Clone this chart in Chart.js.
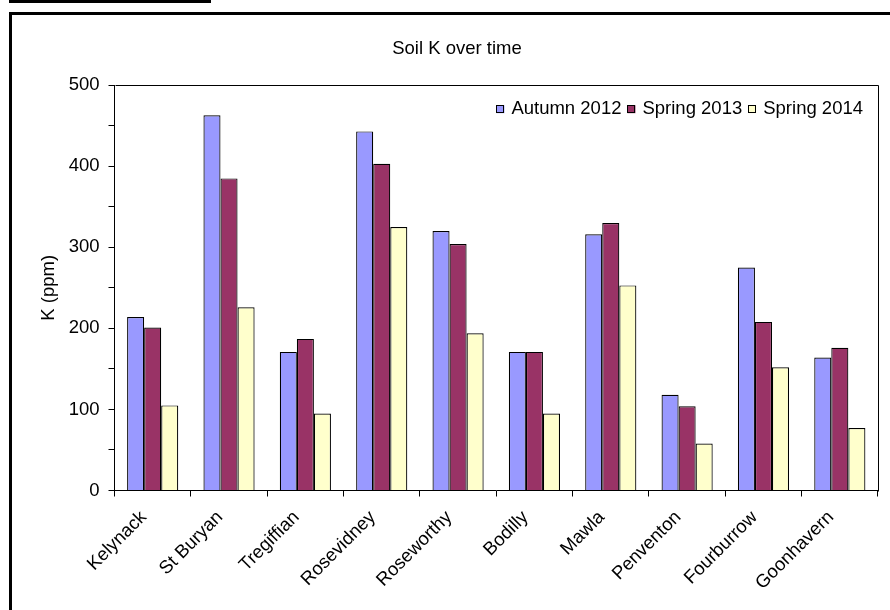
<!DOCTYPE html>
<html>
<head>
<meta charset="utf-8">
<script src="https://cdn.jsdelivr.net/npm/chart.js@4/dist/chart.umd.min.js"></script>
<style>
  html, body { margin: 0; padding: 0; background: #fff; overflow: hidden; }
  #topbar { position: absolute; left: 9px; top: 0; width: 202px; height: 3px; background: #000; }
  #frame { position: absolute; left: 9px; top: 12px; width: 1000px; height: 800px; border: 3px solid #000; }
  #soil { position: absolute; left: 0; top: 0; }
</style>
</head>
<body>
<div id="topbar"></div>
<div id="frame"></div>
<canvas id="soil" width="890" height="610"></canvas>
<script>
var sites = ["Kelynack", "St Buryan", "Tregiffian", "Rosevidney", "Roseworthy",
  "Bodilly", "Mawla", "Penventon", "Fourburrow", "Goonhavern"];
var autumn2012 = [214, 463, 171, 443, 320, 171, 316, 118, 275, 164];
var spring2013 = [201, 385, 187, 403, 304, 171, 330, 104, 208, 176];
var spring2014 = [105, 226, 95, 325, 194, 95, 253, 58, 152, 77];

var fontFamily = "'Liberation Sans', Arial, sans-serif";
Chart.defaults.font.family = fontFamily;
Chart.defaults.font.size = 18.5;
Chart.defaults.color = '#000';

// box lines on top and right of the plot, plus the legend inside it
var plotExtras = {
  id: 'plotExtras',
  afterDraw: function(chart) {
    var c = chart.ctx, a = chart.chartArea;
    c.save();
    c.strokeStyle = '#000';
    c.lineWidth = 1;
    c.beginPath();
    c.moveTo(Math.round(a.left) + 0.5, Math.round(a.top) + 0.5);
    c.lineTo(Math.round(a.right) + 0.5, Math.round(a.top) + 0.5);
    c.lineTo(Math.round(a.right) + 0.5, Math.round(a.bottom) + 0.5);
    c.stroke();

    c.font = "18.5px " + fontFamily;
    c.textBaseline = 'middle';
    var sets = chart.data.datasets;
    var x = a.right - 15, y = a.top + 24;
    for (var i = sets.length - 1; i >= 0; i--) {
      var w = c.measureText(sets[i].label).width;
      c.fillStyle = '#000';
      c.fillText(sets[i].label, x - w, y);
      x -= w + 7 + 8;
      c.fillStyle = sets[i].backgroundColor;
      c.fillRect(x, y - 4, 8, 8);
      c.strokeRect(Math.round(x) + 0.5, Math.round(y - 4) + 0.5, 7, 7);
      x -= 6;
    }
    c.restore();
  }
};

new Chart(document.getElementById('soil'), {
  type: 'bar',
  data: {
    labels: sites,
    datasets: [
      { label: 'Autumn 2012', data: autumn2012, backgroundColor: '#9999FF' },
      { label: 'Spring 2013', data: spring2013, backgroundColor: '#993366' },
      { label: 'Spring 2014', data: spring2014, backgroundColor: '#FFFFCC' }
    ]
  },
  options: {
    responsive: false,
    animation: false,
    layout: { padding: { left: 36, right: 12, top: 0, bottom: 0 } },
    datasets: {
      bar: {
        borderColor: '#000',
        borderWidth: 1.2,
        categoryPercentage: 0.67,
        barPercentage: 1.0
      }
    },
    plugins: {
      legend: { display: false },
      tooltip: { enabled: false },
      title: {
        display: true,
        text: 'Soil K over time',
        font: { size: 18.5, weight: 'normal' },
        padding: { top: 38, bottom: 25 }
      }
    },
    scales: {
      x: {
        grid: { drawOnChartArea: false, tickLength: 6, color: '#000' },
        border: { color: '#000' },
        ticks: { maxRotation: 45, minRotation: 45, autoSkip: false, padding: 10, labelOffset: -9 },
        afterFit: function(s) { s.height = 119.5; }
      },
      y: {
        min: 0,
        max: 500,
        grid: { drawOnChartArea: false, tickLength: 6, color: '#000' },
        border: { color: '#000' },
        ticks: {
          stepSize: 50,
          padding: 9,
          callback: function(v) { return v % 100 === 0 ? v : ''; }
        },
        title: { display: true, text: 'K (ppm)', padding: { top: 2, bottom: 0 } },
        afterFit: function(s) { s.width = 78.5; }
      }
    }
  },
  plugins: [plotExtras]
});
</script>
</body>
</html>
